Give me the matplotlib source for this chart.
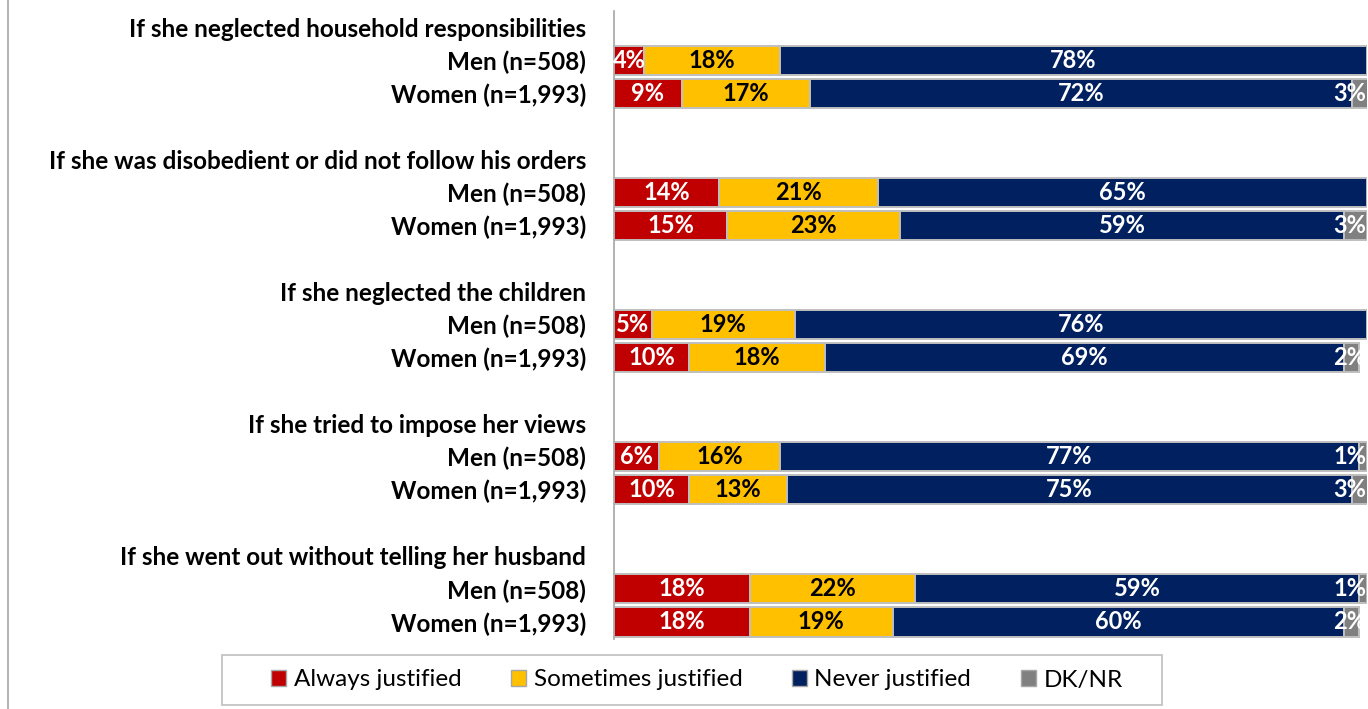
import matplotlib
matplotlib.use("Agg")
import matplotlib.pyplot as plt
from matplotlib.lines import Line2D
from matplotlib.patches import Patch, Rectangle

plt.rcParams['font.family'] = ['Lato', 'DejaVu Sans']

questions = [
    "If she neglected household responsibilities",
    "If she was disobedient or did not follow his orders",
    "If she neglected the children",
    "If she tried to impose her views",
    "If she went out without telling her husband",
]
groups = ["Men (n=508)", "Women (n=1,993)"]

series = ["Always justified", "Sometimes justified", "Never justified", "DK/NR"]
colors = ["#C00000", "#FFC000", "#002060", "#808080"]
text_colors = ["white", "black", "white", "white"]

# values per question: [men, women] for each series
always = [[4, 9], [14, 15], [5, 10], [6, 10], [18, 18]]
sometimes = [[18, 17], [21, 23], [19, 18], [16, 13], [22, 19]]
never = [[78, 72], [65, 59], [76, 69], [77, 75], [59, 60]]
dknr = [[0, 3], [0, 3], [0, 2], [1, 3], [1, 2]]
values = [always, sometimes, never, dknr]

W, H = 1368, 709
fig = plt.figure(figsize=(W / 100, H / 100), dpi=100)
ax = fig.add_axes([614 / W, 1 - 638.5 / H, (1367 - 614) / W, (638.5 - 10.5) / H])

# row layout: header, men, women, then a spacer row between questions
ylabels = []
ypos = []
bar_rows = []
row = 0
for qi, q in enumerate(questions):
    ylabels.append(q)
    ypos.append(row)
    for gi, g in enumerate(groups):
        ylabels.append(g)
        ypos.append(row + 1 + gi)
        bar_rows.append((qi, gi, row + 1 + gi))
    row += 4
last_row = ypos[-1]

for qi, gi, y in bar_rows:
    left = 0
    for si in range(len(series)):
        v = values[si][qi][gi]
        if v <= 0:
            continue
        ax.barh(y, v, left=left, height=0.88, color=colors[si],
                edgecolor="#BFBFBF", linewidth=1.4, clip_on=True)
        center = left + v / 2
        # keep labels of thin end segments inside the plot area
        if center > 97:
            ax.text(99.9, y, f"{v}%", ha="right", va="center",
                    color=text_colors[si], fontsize=17, fontweight="bold")
        else:
            ax.text(center, y, f"{v}%", ha="center", va="center",
                    color=text_colors[si], fontsize=17, fontweight="bold")
        left += v

ax.set_xlim(0, 100)
ax.set_ylim(last_row + 0.5, -0.5)
ax.set_yticks(ypos)
ax.set_yticklabels(ylabels, fontsize=17.5, fontweight="bold")
ax.tick_params(axis="y", length=0, pad=20)
ax.set_xticks([])
for side in ["top", "right", "bottom"]:
    ax.spines[side].set_visible(False)
ax.spines["left"].set_color("#A6A6A6")
ax.spines["left"].set_linewidth(1.2)

# frame edge on the left
fig.add_artist(Line2D([8 / W, 8 / W], [0, 1], transform=fig.transFigure,
                      color="#A6A6A6", linewidth=1.2))

# legend box with wide inner margins
fig.add_artist(Rectangle((222 / W, 1 - 705 / H), (1162 - 222) / W, 50 / H,
                         transform=fig.transFigure, facecolor="white",
                         edgecolor="#BFBFBF", linewidth=1.2))
handles = [Patch(facecolor=c, edgecolor="#A6A6A6", linewidth=1.0) for c in colors]
leg = fig.legend(handles, series, loc="center", ncol=4,
                 bbox_to_anchor=(697 / W, 1 - 680 / H),
                 frameon=False, fontsize=17.5,
                 handlelength=0.62, handleheight=0.62, handletextpad=0.3,
                 columnspacing=2.05, borderpad=0.3)

fig.savefig("out.png", dpi=100)
